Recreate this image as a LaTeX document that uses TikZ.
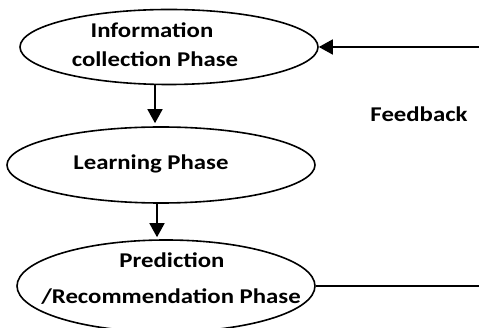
\documentclass[tikz,border=0pt]{standalone}
\usepackage{fontspec}
\usepackage{graphicx}
\setmainfont{Carlito}
\usetikzlibrary{arrows.meta,shapes.geometric}
\newcommand\widetext[1]{\scalebox{1.18}[1]{#1}}
\tikzset{
  phase/.style={draw, ellipse, line width=1.6pt, inner sep=0pt},
  lbl/.style={anchor=base, inner sep=0pt, font=\fontsize{21}{25}\selectfont\bfseries},
  arr/.style={line width=1.6pt, -{Triangle[width=15pt,length=14pt]}},
  link/.style={line width=1.6pt},
}
\begin{document}
\begin{tikzpicture}[x=1pt,y=-1pt]
  \useasboundingbox (0,0) rectangle (479,328);
  \fill[white] (0,0) rectangle (479,328);

  % phase ellipses
  \node[phase, minimum width=298pt, minimum height=75pt] (E1) at (169,47) {};
  \node[phase, minimum width=308pt, minimum height=76pt] (E2) at (161,165) {};
  \node[phase, minimum width=298pt, minimum height=92pt] (E3) at (166,286) {};

  % labels
  \node[lbl] (t1a) at (152,38) {\widetext{Information}};
  \node[lbl] (t1b) at (155,67) {\widetext{collection Phase}};
  \node[lbl] (t2)  at (151,170) {\widetext{Learning Phase}};
  \node[lbl] (t3a) at (172,268) {\widetext{Prediction}};
  \node[lbl] (t3b) at (171,304) {\widetext{/Recommendation Phase}};
  \node[lbl] (fb)  at (419,122) {\widetext{Feedback}};

  % flow between phases
  \draw[arr, shorten >=3pt] ([xshift=-14pt]E1.south) -- ([xshift=-14pt]E1.south |- E2.north);
  \draw[arr, shorten >=2pt] ([xshift=-4pt]E2.south) -- ([xshift=-4pt]E2.south |- E3.north);

  % feedback loop
  \coordinate (fbin) at (479,47);
  \coordinate (fbout) at (479,286);
  \draw[arr] (fbin) -- (E1.east);
  \draw[link] (E3.east) -- (fbout);
\end{tikzpicture}
\end{document}
